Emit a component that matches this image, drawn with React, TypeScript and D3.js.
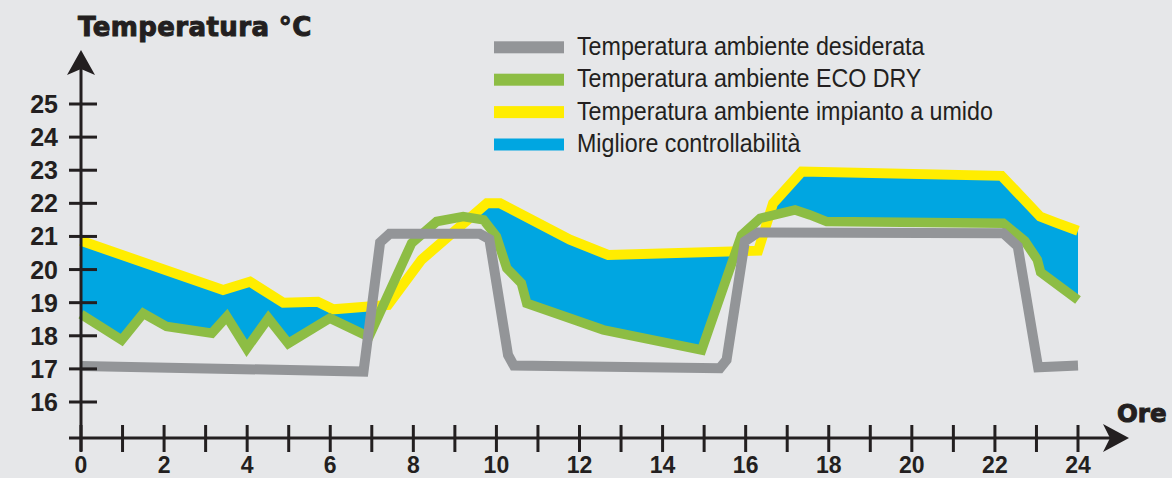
import React from "react";
import * as d3 from "d3";

// hours on the x axis, temperatures on the y axis
const hourTicks = d3.range(0, 25);
const hourLabels = [0, 2, 4, 6, 8, 10, 12, 14, 16, 18, 20, 22, 24];
const tempTicks = [16, 17, 18, 19, 20, 21, 22, 23, 24, 25];

// [hour, °C]
const desiredTemp: [number, number][] = [
    [0, 17.09], [6.8, 16.92], [7.2, 20.82], [7.43, 21.08], [9.6, 21.08], [9.83, 20.92],
    [10.28, 17.42], [10.42, 17.1], [15.38, 17.02], [15.54, 17.27], [15.98, 20.85],
    [16.3, 21.12], [22.2, 21.1], [22.55, 20.7], [23.04, 17.05], [24, 17.1],
];

const ecoDryTemp: [number, number][] = [
    [0, 18.65], [0.98, 17.87], [1.5, 18.68], [2.06, 18.28], [3.15, 18.08], [3.51, 18.58],
    [3.99, 17.62], [4.51, 18.53], [4.99, 17.77], [5.99, 18.53], [6.93, 17.97], [7.96, 20.8],
    [8.56, 21.45], [9.2, 21.6], [9.69, 21.5], [10.0, 21.0], [10.25, 20.04], [10.6, 19.59],
    [10.73, 18.98], [12.57, 18.18], [14.94, 17.57], [15.9, 21.04], [16.35, 21.55],
    [17.19, 21.8], [17.55, 21.65], [17.95, 21.45], [22.2, 21.4], [22.72, 20.86],
    [23.02, 20.3], [23.1, 19.92], [24, 19.08],
];

const wetTemp: [number, number][] = [
    [0, 20.87], [3.42, 19.38], [4.07, 19.63], [4.87, 19.0], [5.7, 19.03], [6.07, 18.8],
    [7.39, 18.93], [8.2, 20.3], [9.77, 22.0], [10.09, 22.0], [11.77, 20.9], [12.69, 20.44],
    [16.3, 20.57], [16.66, 22.0], [17.35, 22.96], [22.16, 22.83], [23.09, 21.6],
    [23.5, 21.4], [24, 21.17],
];

const legendLabels = [
    "Temperatura ambiente desiderata",
    "Temperatura ambiente ECO DRY",
    "Temperatura ambiente impianto a umido",
    "Migliore controllabilità",
];

const W = 1172;
const H = 478;
const ink = "#231f20";
const bg = "#e6e7e9";
const gray = "#939598";
const green = "#8dbd44";
const yellow = "#ffed00";
const blue = "#00a6e1";
const legendColors = [gray, green, yellow, blue];

const tickFont = "'Liberation Sans', Arial, sans-serif";
const heavyFont = "'DejaVu Sans', sans-serif";

const App: React.FC = () => {
    const x = d3.scaleLinear().domain([0, 24]).range([81, 1078]);
    const y = d3.scaleLinear().domain([16, 25]).range([402, 104]);
    const axisY = 438;
    const axisX = x(0);

    const line = d3.line<[number, number]>()
        .x(d => x(d[0]))
        .y(d => y(d[1]))
        .curve(d3.curveLinear);

    // blue band: polygon between the two curves, kept only below the "umido" line
    const band = line([...wetTemp, ...ecoDryTemp.slice().reverse()]) + "Z";
    const belowWet = d3.area<[number, number]>()
        .x(d => x(d[0]))
        .y0(H)
        .y1(d => y(d[1]))(wetTemp) || "";

    return (
        <svg
            width={W}
            height={H}
            style={{ position: "absolute", left: 0, top: 0, display: "block" }}
        >
            <defs>
                <clipPath id="below-wet">
                    <path d={belowWet} />
                </clipPath>
            </defs>
            <rect width={W} height={H} fill={bg} />

            {/* title */}
            <text
                x={78}
                y={36}
                fontFamily={heavyFont}
                fontWeight="bold"
                fontSize={26}
                letterSpacing={0.4}
                fill={ink}
                stroke={ink}
                strokeWidth={1}
            >
                Temperatura °C
            </text>

            {/* legend */}
            {legendLabels.map((label, i) => {
                const cy = 47.3 + i * 32.4;
                return (
                    <g key={label}>
                        <rect x={494} y={cy - 6} width={70} height={12} fill={legendColors[i]} />
                        <text
                            transform={`translate(577,${cy + 7.5}) scale(0.93,1)`}
                            fontFamily={tickFont}
                            fontSize={25}
                            fill={ink}
                        >
                            {label}
                        </text>
                    </g>
                );
            })}

            {/* data */}
            <path d={band} fill={blue} clipPath="url(#below-wet)" />
            <path d={line(wetTemp) || ""} fill="none" stroke={yellow} strokeWidth={10} strokeLinejoin="miter" />
            <path d={line(ecoDryTemp) || ""} fill="none" stroke={green} strokeWidth={9.5} strokeLinejoin="miter" />
            <path d={line(desiredTemp) || ""} fill="none" stroke={gray} strokeWidth={10} strokeLinejoin="miter" />

            {/* y axis */}
            <line x1={axisX} x2={axisX} y1={62} y2={451} stroke={ink} strokeWidth={3} />
            <path d={`M${axisX},50 L${axisX + 14},75 L${axisX},69 L${axisX - 14},75 Z`} fill={ink} />
            {tempTicks.map(t => (
                <g key={t}>
                    <line x1={axisX - 12} x2={axisX + 16} y1={y(t)} y2={y(t)} stroke={ink} strokeWidth={3} />
                    <text
                        x={58}
                        y={y(t) + 9}
                        textAnchor="end"
                        fontFamily={tickFont}
                        fontWeight="bold"
                        fontSize={25}
                        fill={ink}
                    >
                        {t}
                    </text>
                </g>
            ))}

            {/* x axis */}
            <line x1={69} x2={1112} y1={axisY} y2={axisY} stroke={ink} strokeWidth={3} />
            <path d={`M1129,${axisY} L1103,${axisY - 14} L1110,${axisY} L1103,${axisY + 14} Z`} fill={ink} />
            {hourTicks.map(h => (
                <line key={h} x1={x(h)} x2={x(h)} y1={axisY - 13} y2={axisY + 14} stroke={ink} strokeWidth={3} />
            ))}
            {hourLabels.map(h => (
                <text
                    key={h}
                    x={x(h)}
                    y={473}
                    textAnchor="middle"
                    fontFamily={tickFont}
                    fontWeight="bold"
                    fontSize={23}
                    fill={ink}
                >
                    {h}
                </text>
            ))}
            <text
                x={1117}
                y={422}
                fontFamily={heavyFont}
                fontWeight="bold"
                fontSize={24.5}
                fill={ink}
                stroke={ink}
                strokeWidth={1}
            >
                Ore
            </text>
        </svg>
    );
};

export default App;
